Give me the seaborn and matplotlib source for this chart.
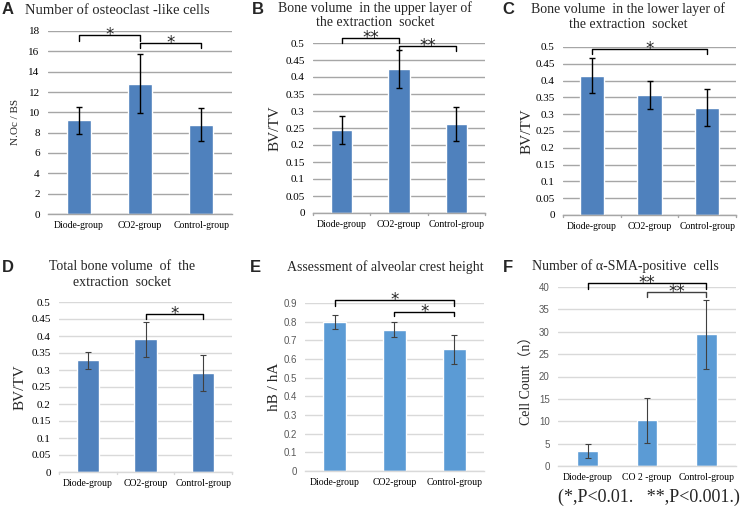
import matplotlib
matplotlib.use("Agg")
import matplotlib.pyplot as plt
import seaborn as sns
import pandas as pd
import numpy as np

sns.set_style("white")
plt.rcParams['font.family'] = ['Liberation Serif', 'DejaVu Serif']

groups = ["Diode-group", "CO2-group", "Control-group"]
groups_f = ["Diode-group", "CO 2 -group", "Control-group"]

a_vals = [9.2, 12.8, 8.8]
a_err = [1.3, 2.9, 1.6]
b_vals = [0.244, 0.423, 0.262]
b_err = [0.04, 0.055, 0.05]
c_vals = [0.415, 0.357, 0.319]
c_err = [0.052, 0.042, 0.055]
d_vals = [0.328, 0.390, 0.291]
d_err = [0.024, 0.052, 0.052]
e_vals = [0.797, 0.758, 0.652]
e_err = [0.038, 0.04, 0.078]
f_vals = [3.35, 10.2, 29.4]
f_err = [1.6, 4.95, 7.8]

W, H = 741, 509
fig = plt.figure(figsize=(W / 100, H / 100), dpi=100)

def add_ax(l, r, t, b):
    return fig.add_axes([l / W, 1 - b / H, (r - l) / W, (b - t) / H])

def ftext(x, y, s, **kw):
    fig.text(x / W, 1 - y / H, s, **kw)

DARK = "#4F81BD"
LIGHT = "#5B9BD5"

def panel(ax, cats, vals, errs, color, width, ymax, ystep, grid_color,
          err_color, err_lw, tick_style, excel_ticks):
    df = pd.DataFrame({"group": cats, "value": vals})
    sns.barplot(data=df, x="group", y="value", ax=ax, color=color,
                width=width, errorbar=None, saturation=1, order=cats)
    ax.errorbar(x=np.arange(len(cats)), y=vals, yerr=errs, fmt="none",
                ecolor=err_color, elinewidth=err_lw, capsize=2.5,
                capthick=err_lw, zorder=4)
    ax.set_xlim(-0.5, len(cats) - 0.5)
    ax.set_ylim(0, ymax)
    ticks = np.round(np.arange(0, ymax + ystep / 2, ystep), 4)
    ax.set_yticks(ticks)
    labels = [("%g" % t) for t in ticks]
    ax.set_yticklabels(labels)
    ax.yaxis.grid(True, color=grid_color, lw=1)
    ax.set_axisbelow(True)
    for s in ["top", "right", "left"]:
        ax.spines[s].set_visible(False)
    ax.spines["bottom"].set_color(grid_color)
    ax.spines["bottom"].set_linewidth(1)
    ax.set_xlabel("")
    ax.set_ylabel("")
    ax.tick_params(axis="y", length=0, pad=6)
    ax.tick_params(axis="x", length=0, pad=5)
    for lab in ax.get_xticklabels():
        lab.set_fontfamily("Liberation Serif")
        lab.set_fontsize(7)
        lab.set_color("black")
    for lab in ax.get_yticklabels():
        if tick_style == "serif":
            lab.set_fontfamily("Liberation Serif")
            lab.set_fontsize(8)
            lab.set_color("black")
        else:
            lab.set_fontfamily("Liberation Sans")
            lab.set_fontsize(7)
            lab.set_color("#595959")
    if excel_ticks:
        for xb in [-0.5, 0.5, 1.5, 2.5]:
            ax.plot([xb, xb], [0, -ymax * 0.012], color=grid_color, lw=1,
                    clip_on=False)

def bracket(ax, x0, x1, ytop, ydrop, star, color="black", lw=1, fs=12):
    ax.plot([x0, x0, x1, x1], [ydrop, ytop, ytop, ydrop], color=color, lw=lw,
            clip_on=False, zorder=5)
    ax.text((x0 + x1) / 2, ytop, star, ha="center", va="center",
            fontsize=fs, family="DejaVu Sans", clip_on=False, zorder=6)

# ---- A ----
axA = add_ax(48, 232, 31, 214)
panel(axA, groups, a_vals, a_err, DARK, 0.39, 18, 2, "#A6A6A6", "black", 1.0,
      "serif", False)
bracket(axA, 0, 1, 17.6, 17.05, "*")
bracket(axA, 1, 2, 16.8, 16.3, "*")

# ---- B ----
axB = add_ax(313, 485, 43, 213)
panel(axB, groups, b_vals, b_err, DARK, 0.37, 0.5, 0.05, "#A6A6A6", "black", 1.0,
      "serif", True)
bracket(axB, 0, 1, 0.515, 0.5, "**")
bracket(axB, 1, 2, 0.49, 0.477, "**")

# ---- C ----
axC = add_ax(563, 736, 47, 215)
panel(axC, groups, c_vals, c_err, DARK, 0.42, 0.5, 0.05, "#A6A6A6", "black", 1.0,
      "serif", True)
bracket(axC, 0, 2, 0.493, 0.479, "*")

# ---- D ----
axD = add_ax(59, 232, 302, 472)
panel(axD, groups, d_vals, d_err, DARK, 0.39, 0.5, 0.05, "#D9D9D9", "#404040", 0.8,
      "serif", True)
bracket(axD, 1, 2, 0.465, 0.45, "*")

# ---- E ----
axE = add_ax(305, 484, 303, 471)
panel(axE, groups, e_vals, e_err, LIGHT, 0.39, 0.9, 0.1, "#D9D9D9", "#404040", 0.8,
      "sans", False)
bracket(axE, 0, 2, 0.915, 0.882, "*")
bracket(axE, 1, 2, 0.852, 0.829, "*")

# ---- F ----
axF = add_ax(558, 736, 287, 466)
panel(axF, groups_f, f_vals, f_err, LIGHT, 0.35, 40, 5, "#D9D9D9", "#404040", 0.8,
      "sans", False)
bracket(axF, 0, 2, 40.9, 39.6, "**")
bracket(axF, 1, 2, 38.9, 37.8, "**", color="#404040")

# ---- y labels ----
ftext(15, 122, "N.Oc / BS", rotation=90, ha="center", va="center", fontsize=8)
ftext(275, 128, "BV/TV", rotation=90, ha="center", va="center", fontsize=11)
ftext(527, 131, "BV/TV", rotation=90, ha="center", va="center", fontsize=11)
ftext(20, 387, "BV/TV", rotation=90, ha="center", va="center", fontsize=11)
ftext(275, 387, "hB / hA", rotation=90, ha="center", va="center", fontsize=11)
ftext(527, 377, "Cell Count（n）", rotation=90, ha="center", va="center",
      fontsize=10, family=["Liberation Serif", "Noto Sans CJK SC"])

# ---- panel letters ----
for x, y, s in [(2, 10, "A"), (252, 9, "B"), (502, 10, "C"),
                (2, 267, "D"), (250, 268, "E"), (503, 268, "F")]:
    ftext(x, y, s, fontsize=12, fontweight="bold", family="Liberation Sans",
          ha="left", va="center")

# ---- titles ----
ftext(25, 10, "Number of osteoclast -like cells", fontsize=10.5, ha="left", va="center")
ftext(375, 8, "Bone volume  in the upper layer of", fontsize=10, ha="center", va="center")
ftext(375, 22, "the extraction  socket", fontsize=10, ha="center", va="center")
ftext(628, 9, "Bone volume  in the lower layer of", fontsize=10, ha="center", va="center")
ftext(628, 24, "the extraction  socket", fontsize=10, ha="center", va="center")
ftext(122, 267, "Total bone volume  of  the", fontsize=10, ha="center", va="center")
ftext(122, 283, "extraction  socket", fontsize=10, ha="center", va="center")
ftext(385, 267, "Assessment of alveolar crest height", fontsize=10, ha="center", va="center")
ftext(625, 266, "Number of α-SMA-positive  cells", fontsize=10, ha="center", va="center")

# ---- footnote ----
ftext(740, 497, "(*,P<0.01.   **,P<0.001.)", fontsize=13, ha="right", va="center")

fig.savefig("out.png", dpi=100, facecolor="white")
